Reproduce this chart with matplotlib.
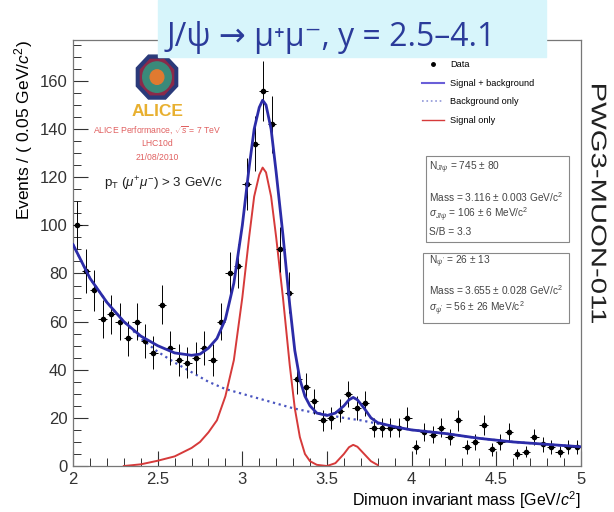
import numpy as np
import matplotlib
matplotlib.use('Agg')
from matplotlib import pyplot as plt
from matplotlib.lines import Line2D
from matplotlib.patches import Rectangle, RegularPolygon, Circle, PathPatch
from matplotlib.textpath import TextPath
from matplotlib.font_manager import FontProperties
from matplotlib.transforms import Affine2D, IdentityTransform

plt.rcParams['font.family'] = ['Liberation Sans', 'DejaVu Sans']
plt.rcParams['mathtext.fontset'] = 'custom'
plt.rcParams['mathtext.rm'] = 'Liberation Sans'
plt.rcParams['mathtext.it'] = 'Liberation Sans:italic'

# Dimuon invariant mass histogram (bins of 0.05 GeV/c2 from 2 to 5)
bin_centers = np.arange(2.025, 5.0, 0.05)
counts = [100, 81, 73, 61, 63, 60, 53, 60, 52, 47,
          67, 49, 44, 43, 45, 49, 44, 60, 80, 83,
          117, 134, 156, 142, 90, 72, 36, 33, 27, 19,
          20, 23, 30, 24, 26, 16, 16, 16, 16, 20,
          8, 14, 13, 16, 12, 19, 8, 10, 17, 7,
          10, 14, 5, 6, 12, 9, 8, 6, 8, 8]

# Fit curves
total_x = [2.00, 2.10, 2.20, 2.30, 2.40, 2.50, 2.60, 2.70, 2.75, 2.80,
           2.85, 2.90, 2.95, 3.00, 3.04, 3.07, 3.10, 3.12, 3.14, 3.17,
           3.20, 3.24, 3.28, 3.31, 3.34, 3.37, 3.40, 3.44, 3.50, 3.55,
           3.60, 3.63, 3.655, 3.68, 3.72, 3.76, 3.80, 3.90, 4.00, 4.20,
           4.40, 4.60, 4.80, 5.00]
total_y = [92, 78, 68, 60, 54, 50, 47, 46, 46.5, 49,
           53, 61, 76, 100, 124, 140, 149, 152, 150, 140,
           122, 96, 67, 48, 36, 29, 25, 22, 21, 22,
           25, 27.5, 28.5, 27.5, 24, 20, 18, 16.3, 15, 13.5,
           11.5, 10, 9, 8]

bkg_x = [2.0, 2.1, 2.2, 2.3, 2.4, 2.5, 2.6, 2.7, 2.8, 2.9, 3.0, 3.1, 3.2,
         3.3, 3.4, 3.5, 3.6, 3.7, 3.8, 3.9, 4.0, 4.2, 4.4, 4.6, 4.8, 5.0]
bkg_y = [92, 78, 68, 60, 53, 47.5, 43, 39, 35, 32, 30, 28, 26,
         24, 22.5, 21.3, 20, 19, 17.6, 16.3, 15, 13.5, 11.5, 10, 9, 8]

sig_x = [2.30, 2.40, 2.50, 2.60, 2.70, 2.75, 2.80, 2.85, 2.90, 2.95,
         3.00, 3.04, 3.07, 3.10, 3.12, 3.14, 3.17, 3.20, 3.24, 3.28,
         3.31, 3.34, 3.37, 3.40, 3.44, 3.50, 3.55, 3.60, 3.63, 3.655,
         3.68, 3.72, 3.76, 3.80]
sig_y = [0, 0.7, 2.2, 4, 7.5, 10, 14, 19, 29, 44,
         70, 95, 112, 121, 124, 122, 112, 95, 70, 42,
         24, 12, 5, 2, 0.5, 0, 1.2, 5, 7.8, 8.8,
         8, 5, 2, 0.4]

azul = '#2c2ca8'
vermelho = '#d63a3a'

fig = plt.figure(figsize=(6.14, 5.12), dpi=100)
ax = fig.add_axes([0.119, 0.0898, 0.827, 0.832])

ax.errorbar(bin_centers, counts, yerr=np.sqrt(counts), xerr=0.025, fmt='o',
            color='black', ms=3, elinewidth=0.7, capsize=0, zorder=3)
ax.plot(bkg_x, bkg_y, ':', color='#4a55c0', lw=1.6, zorder=2)
ax.plot(sig_x, sig_y, '-', color=vermelho, lw=1.4, zorder=2)
ax.plot(total_x, total_y, '-', color=azul, lw=2.0, zorder=4)

ax.set_xlim(2, 5)
ax.set_ylim(0, 177)
ax.set_xticks([2, 2.5, 3, 3.5, 4, 4.5, 5])
ax.set_xticklabels(['2', '2.5', '3', '3.5', '4', '4.5', '5'])
ax.set_xticks(np.arange(2, 5.01, 0.1), minor=True)
ax.set_yticks(np.arange(0, 161, 20))
ax.set_yticks(np.arange(0, 177, 5), minor=True)
ax.tick_params(direction='in', which='major', length=11, width=0.8, labelsize=12, pad=4, colors='#333333')
ax.tick_params(direction='in', which='minor', length=6, width=0.7, colors='#333333')
for s in ax.spines.values():
    s.set_color('#777777')
    s.set_linewidth(0.9)

ax.set_xlabel(r'Dimuon invariant mass [GeV/$c^2$]', loc='right', fontsize=11.5, labelpad=2)
ax.set_ylabel(r'Events / ( 0.05 GeV/$c^2$)', loc='top', fontsize=12.5, labelpad=3)

# legenda
handles = [Line2D([], [], marker='o', ls='none', color='black', ms=2.5),
           Line2D([], [], color='#6a5fd8', lw=1.5),
           Line2D([], [], color='#8f96d8', lw=1.2, ls=':'),
           Line2D([], [], color=vermelho, lw=1.0)]
labels = ['Data', 'Signal + background', 'Background only', 'Signal only']
ax.legend(handles, labels, loc='upper left', bbox_to_anchor=(0.67, 0.972), frameon=False,
          fontsize=6.6, handlelength=2.4, labelspacing=1.05, handletextpad=0.7)

# caixas com os resultados do ajuste
fig.patches.append(Rectangle((426 / 614, 1 - 242 / 512), 143 / 614, 86 / 512, transform=fig.transFigure,
                             fill=False, ec='#888888', lw=0.8))
fig.patches.append(Rectangle((423 / 614, 1 - 323 / 512), 146 / 614, 70 / 512, transform=fig.transFigure,
                             fill=False, ec='#888888', lw=0.8))
txt1 = [(168, r'N$_{J/\psi}$ = 745 $\pm$ 80'),
        (197, r'Mass = 3.116 $\pm$ 0.003 GeV/c$^2$'),
        (215, r'$\sigma_{J/\psi}$ = 106 $\pm$ 6 MeV/c$^2$'),
        (232, 'S/B = 3.3')]
txt2 = [(262, r"N$_{\psi'}$ = 26 $\pm$ 13"),
        (290, r'Mass = 3.655 $\pm$ 0.028 GeV/c$^2$'),
        (309, r"$\sigma_{\psi'}$ = 56 $\pm$ 26 MeV/c$^2$")]
for yy, t in txt1 + txt2:
    fig.text(429 / 614, 1 - yy / 512, t, fontsize=7.3, color='#444444', va='center', ha='left')

# texto vertical, esticado como na imagem original
tp = TextPath((0, 0), 'PWG3-MUON-011', size=20, prop=FontProperties(family='Liberation Sans'))
bb = tp.get_extents()
trans = (Affine2D().translate(-bb.x0 - bb.width / 2, -bb.y0 - bb.height / 2)
         .scale(238 / bb.width, 15 / bb.height).rotate_deg(-90).translate(599, 512 - 204))
fig.add_artist(PathPatch(tp, transform=trans + IdentityTransform(), color='#222222', lw=0))

# logo ALICE (aproximado)
logo = fig.add_axes([126 / 614, 1 - 118 / 512, 62 / 614, 66 / 512])
logo.set_xlim(0, 1)
logo.set_ylim(0, 1)
logo.axis('off')
logo.add_patch(RegularPolygon((0.5, 0.62), 8, radius=0.36, orientation=np.pi / 8, color='#2a3a7a'))
logo.add_patch(RegularPolygon((0.5, 0.62), 8, radius=0.29, orientation=np.pi / 8, color='#8a2a4a'))
logo.add_patch(Circle((0.5, 0.62), 0.23, color='#3a8a7a'))
logo.add_patch(Circle((0.5, 0.62), 0.11, color='#e07a30'))
logo.text(0.5, 0.1, 'ALICE', fontsize=12.5, color='#e8b030', ha='center', va='center', fontweight='bold')

vermelho_txt = '#e06060'
fig.text(157 / 614, 1 - 130 / 512, r'ALICE Performance, $\sqrt{s}$ = 7 TeV', fontsize=6.2,
         color=vermelho_txt, ha='center', va='center')
fig.text(157 / 614, 1 - 144 / 512, 'LHC10d', fontsize=6.2, color=vermelho_txt, ha='center', va='center')
fig.text(157 / 614, 1 - 158 / 512, '21/08/2010', fontsize=6.2, color=vermelho_txt, ha='center', va='center')
fig.text(163 / 614, 1 - 184 / 512, r'p$_{\rm T}$ ($\mu^{+}\mu^{-}$) > 3 GeV/c', fontsize=9.6,
         color='#222222', ha='center', va='center')

# titulo com fundo ciano
fig.patches.append(Rectangle((158 / 614, 1 - 57 / 512), 388 / 614, 57 / 512, transform=fig.transFigure,
                             color='#d7f5fb', zorder=5))
fig.text(331 / 614, 1 - 37 / 512, 'J/ψ → μ⁺μ⁻, y = 2.5–4.1', fontsize=23, color='#2b3b9a',
         ha='center', va='center', family=['Open Sans', 'DejaVu Sans'], zorder=6)

fig.savefig('out.png', dpi=100)
